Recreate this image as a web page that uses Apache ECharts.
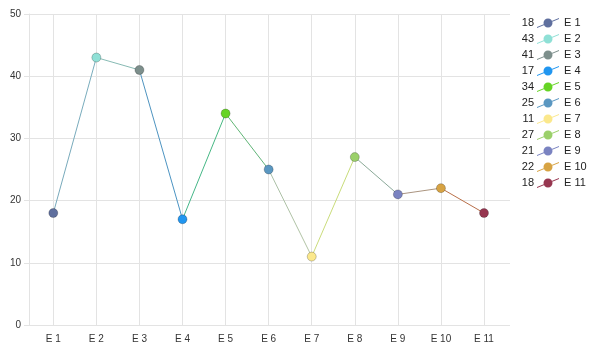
<!DOCTYPE html>
<html>
<head>
<meta charset="utf-8">
<script src="https://cdn.jsdelivr.net/npm/echarts@6/dist/echarts.min.js"></script>
<style>html,body{margin:0;padding:0;background:#fff}#c{width:592px;height:351px}</style>
</head>
<body>
<div id="c"></div>
<script>
var categories = ['E 1','E 2','E 3','E 4','E 5','E 6','E 7','E 8','E 9','E 10','E 11'];
var values = [18, 43, 41, 17, 34, 25, 11, 27, 21, 22, 18];
var colors = ['#5f6f9e','#8fe0d6','#7d8f8c','#2196f0','#66d424','#5a97c1','#fbe88c','#9bd06a','#7a83c1','#d7a343','#973650'];
var yTicks = [0, 10, 20, 30, 40, 50];

var FONT = 'Liberation Sans, Arial, sans-serif';
var gridColor = '#e3e3e3';
var iconPath = 'path://M0,10 L0,8.9 L22,0 L22,1.1 Z ' +
  'M6.5,5 C6.5,2.515 8.515,0.5 11,0.5 C13.485,0.5 15.5,2.515 15.5,5 ' +
  'C15.5,7.485 13.485,9.5 11,9.5 C8.515,9.5 6.5,7.485 6.5,5 Z';

var series = [{
  type: 'line',
  name: '__main',
  xAxisIndex: 1, yAxisIndex: 1,
  data: values,
  symbol: 'circle',
  symbolSize: 9,
  lineStyle: { width: 1 },
  itemStyle: { borderColor: 'rgba(0,0,0,0.22)', borderWidth: 1 },
  z: 5
}];
categories.forEach(function (c, i) {
  series.push({
    type: 'line', name: c, xAxisIndex: 1, yAxisIndex: 1,
    data: [], color: colors[i]
  });
});

var chart = echarts.init(document.getElementById('c'), null, { renderer: 'canvas' });
chart.setOption({
  animation: false,
  textStyle: { fontFamily: FONT },
  grid: [
    { left: 29, right: 82, top: 14, bottom: 26 },
    { left: 53.3, right: 108, top: 14, bottom: 26 }
  ],
  xAxis: [
    { type: 'value', gridIndex: 0, show: false, min: 0, max: 1 },
    { type: 'category', gridIndex: 1, data: categories, boundaryGap: false,
      axisLine: { show: false }, axisTick: { show: false },
      axisLabel: { margin: 9, fontSize: 10, color: '#333', fontFamily: FONT },
      splitLine: { show: true, lineStyle: { color: gridColor, width: 1 } } }
  ],
  yAxis: [
    { type: 'value', gridIndex: 0, min: yTicks[0], max: yTicks[yTicks.length - 1], interval: 10,
      axisLine: { show: true, lineStyle: { color: gridColor } },
      axisTick: { show: true, length: 5, lineStyle: { color: gridColor } },
      axisLabel: { margin: 8, fontSize: 10, color: '#333', fontFamily: FONT },
      splitLine: { show: true, lineStyle: { color: gridColor } } },
    { type: 'value', gridIndex: 1, min: yTicks[0], max: yTicks[yTicks.length - 1], show: false, splitLine: { show: false } }
  ],
  visualMap: {
    show: false, type: 'continuous', seriesIndex: 0, dimension: 0,
    min: 0, max: categories.length - 1,
    inRange: { color: colors }
  },
  legend: [
    { orient: 'vertical', left: 537, top: 17, padding: 0, data: categories,
      icon: iconPath, itemWidth: 22, itemHeight: 10, itemGap: 4,
      itemStyle: { borderWidth: 0 },
      textStyle: { fontSize: 11, lineHeight: 12, color: '#222', fontFamily: FONT } },
    { orient: 'vertical', right: 53, top: 17, padding: 0, data: categories, align: 'right',
      icon: 'rect', itemWidth: 0, itemHeight: 10, itemGap: 4,
      itemStyle: { opacity: 0, borderWidth: 0 },
      formatter: function (name) { return String(values[categories.indexOf(name)]); },
      textStyle: { fontSize: 11, lineHeight: 12, color: '#222', fontFamily: FONT } }
  ],
  series: series
});
</script>
</body>
</html>
